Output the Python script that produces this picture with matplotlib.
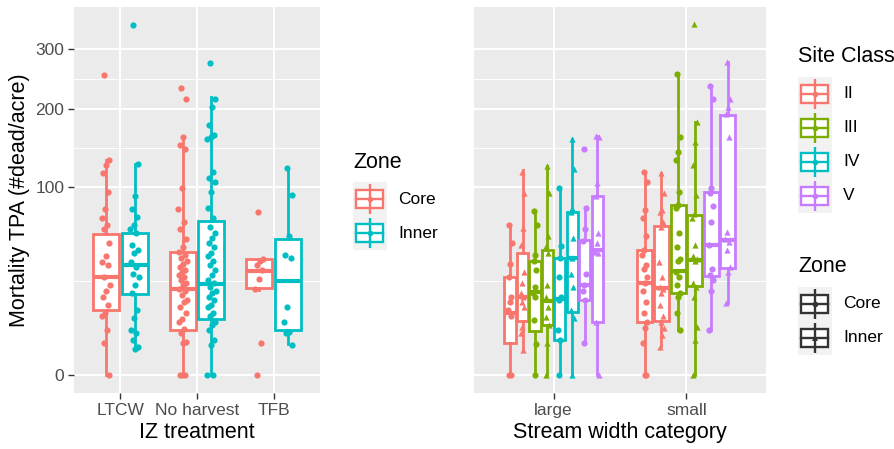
import numpy as np
import matplotlib.pyplot as plt
from matplotlib.patches import Rectangle

plt.rcParams['font.family'] = ['Liberation Sans', 'DejaVu Sans']

# ---- data (TPA = trees per acre) ----
treatments = ['LTCW', 'No harvest', 'TFB']
zones = ['Core', 'Inner']
zone_colors = ['#F8766D', '#00BFC4']

site_classes = ['II', 'III', 'IV', 'V']
site_colors = ['#F8766D', '#7CAE00', '#00BFC4', '#C77CFF']
widths = ['large', 'small']

# left panel points
ltcw_core = [255, 131, 125, 115, 95, 78, 70, 64, 60, 49, 40, 36, 34, 27, 23, 20, 17, 14, 11, 10, 5.7, 2.9, 0]
ltcw_inner = [347, 126, 91, 78, 71, 64, 60, 57, 48, 44, 42, 36, 33, 29, 27, 23, 19, 12, 9.2, 5.7, 5, 3.5, 2.2, 1.9]
nh_core = [233, 216, 160, 150, 144, 99, 78, 66, 60, 52, 46, 43, 41, 39, 37, 35, 33, 31, 30, 28, 27, 25.5,
           24, 23, 21, 20, 18, 16, 15, 13, 11, 9, 8, 6, 5, 3, 2.9, 0, 0, 0]
nh_inner = [276, 216, 203, 177, 163, 160, 158, 117, 110, 105, 95, 79, 70, 62, 57, 53, 49, 46, 42, 40, 37, 34,
            31, 28, 25.5, 24, 22, 20, 19, 17, 16, 14, 13, 11, 10, 8, 7, 5.7, 3.5, 2.5, 0, 0]
tfb_core = [75, 38, 37, 34, 31, 26, 21, 2.9, 0]
tfb_inner = [121, 92, 55, 41, 39, 13, 8, 5.3, 5, 2.5]

# left panel boxes: whislo, q1, median, q3, whishi
box_ltcw_core = [0, 12, 27, 56, 131]
box_ltcw_inner = [1.9, 18.5, 34, 57, 126]
box_nh_core = [0, 5.75, 20.8, 42.7, 160]
box_nh_inner = [0, 8.8, 23.3, 67, 218]
box_tfb_core = [20.5, 21.3, 30.5, 38, 38]
box_tfb_inner = [2.7, 5.6, 25, 52.3, 121]

# right panel points, large streams
lg_ii_core = [64, 49, 35, 27, 17, 15, 12, 10, 0, 0]
lg_ii_inner = [117, 94, 61, 48, 30, 24, 19, 17, 15, 13, 6.6, 5, 1.8]
lg_iii_core = [76, 64, 41, 37, 31, 22, 19, 17, 8.6, 2.8, 0]
lg_iii_inner = [123, 94, 55, 47, 42, 23, 17, 13, 9.6, 7, 2.9, 0]
lg_iv_core = [99, 47, 39, 27, 17, 16, 5.7, 3.5, 0]
lg_iv_inner = [158, 120, 79, 75, 53, 39, 29, 22, 12, 9.2, 0]
lg_v_core = [144, 79, 60, 51, 29, 23, 20, 16, 2.9]
lg_v_inner = [162, 160, 104, 91, 57, 49, 43, 42, 8, 0]

# right panel points, small streams (no site class IV)
sm_ii_core = [116, 105, 77, 70, 55, 44, 41, 34, 32, 27, 24, 20, 15, 11, 7.8, 6.2, 2.9, 0, 0]
sm_ii_inner = [115, 94, 77, 75, 66, 62, 36, 27, 22, 21, 19, 14, 10, 8, 6.2, 4.5, 2.2]
sm_iii_core = [256, 160, 141, 131, 95, 82, 79, 57, 46, 38, 37, 30, 27, 23, 19, 17, 11, 5.7]
sm_iii_inner = [349, 181, 154, 125, 92, 73, 70, 48, 40, 38, 37, 24, 22, 17, 6.6, 3.5, 0]
sm_v_core = [236, 216, 99, 94, 81, 66.5, 48, 32, 28, 25.5, 20, 5.7]
sm_v_inner = [277, 216, 203, 192, 160, 58, 52, 50, 44, 33, 30, 14.6]

box_lg_ii_core = [0, 2.85, 11, 27.1, 64]
box_lg_ii_inner = [1.8, 8.3, 17.3, 42.3, 119]
box_lg_iii_core = [0, 5.5, 19.5, 37, 76]
box_lg_iii_inner = [0, 7.1, 15.5, 44, 123]
box_lg_iv_core = [0, 3.5, 16.5, 38.5, 99]
box_lg_iv_inner = [0, 11.3, 38.5, 75.5, 158]
box_lg_v_core = [2.9, 16, 23, 51.6, 79]
box_lg_v_inner = [0, 7.9, 44, 91, 162]

box_sm_ii_core = [0, 7.8, 23.9, 44.4, 116]
box_sm_ii_inner = [2.3, 8.1, 21.3, 62.5, 115]
box_sm_iii_core = [5.75, 19.2, 30.3, 82, 256]
box_sm_iii_inner = [0, 22.2, 37.6, 72.7, 181]
box_sm_v_core = [5.75, 27.8, 48, 94.4, 236]
box_sm_v_inner = [14.6, 32.2, 51.6, 191, 277]


def fwd(v):
    v = np.asarray(v, dtype=float)
    return np.sign(v) * np.sqrt(np.abs(v))


def inv(t):
    t = np.asarray(t, dtype=float)
    return np.sign(t) * t ** 2


def jitter(n, w):
    k = np.arange(n)
    return ((k * 0.618034 + 0.31) % 1.0 - 0.5) * 2 * w


def style_panel(ax):
    ax.set_facecolor('#EBEBEB')
    ax.set_yscale('function', functions=(fwd, inv))
    ax.set_ylim(-0.92, 383)
    ax.set_yticks([0, 100, 200, 300])
    ax.set_yticks([25, 145.7, 247.5], minor=True)
    ax.grid(True, which='major', color='white', lw=1.4)
    ax.grid(True, which='minor', color='white', lw=0.7)
    ax.set_axisbelow(True)
    for s in ax.spines.values():
        s.set_visible(False)
    ax.tick_params(which='minor', length=0)
    ax.tick_params(which='major', length=4, width=1, color='#333333',
                   labelcolor='#4D4D4D', labelsize=12.5, pad=3)


def draw_group(ax, pos, stats, pts, color, width, jw, marker):
    st = dict(whislo=stats[0], q1=stats[1], med=stats[2], q3=stats[3], whishi=stats[4], fliers=[])
    ax.bxp([st], positions=[pos], widths=width, showcaps=False, showfliers=False,
           patch_artist=True, manage_ticks=False,
           boxprops=dict(facecolor='white', edgecolor=color, linewidth=2.0),
           whiskerprops=dict(color=color, linewidth=2.0),
           medianprops=dict(color=color, linewidth=3.0, solid_capstyle='butt'))
    ax.scatter(pos + jitter(len(pts), jw), pts, s=20, color=color, marker=marker,
               linewidths=0, zorder=4)


fig = plt.figure(figsize=(8.95, 4.49), dpi=100)
W, H = 895, 449

ax1 = fig.add_axes([74 / W, 1 - 393 / H, 246 / W, 386 / H])
ax2 = fig.add_axes([474 / W, 1 - 393 / H, 292 / W, 386 / H])
style_panel(ax1)
style_panel(ax2)

# left panel
left_pts = [[ltcw_core, ltcw_inner], [nh_core, nh_inner], [tfb_core, tfb_inner]]
left_box = [[box_ltcw_core, box_ltcw_inner], [box_nh_core, box_nh_inner], [box_tfb_core, box_tfb_inner]]
slot = 0.75 / 2
for i in range(3):
    for j in range(2):
        pos = i + 1 + (j - 0.5) * slot
        draw_group(ax1, pos, left_box[i][j], left_pts[i][j], zone_colors[j],
                   slot * 0.9, slot * 0.15, 'o')
ax1.set_xlim(0.4, 3.6)
ax1.set_xticks([1, 2, 3])
ax1.set_xticklabels(treatments)
ax1.set_xlabel('IZ treatment', fontsize=15.5, labelpad=3)
ax1.set_ylabel('Mortality TPA (#dead/acre)', fontsize=15.5, labelpad=4)

# right panel
right_groups = {
    'large': [('II', 'Core', lg_ii_core, box_lg_ii_core), ('II', 'Inner', lg_ii_inner, box_lg_ii_inner),
              ('III', 'Core', lg_iii_core, box_lg_iii_core), ('III', 'Inner', lg_iii_inner, box_lg_iii_inner),
              ('IV', 'Core', lg_iv_core, box_lg_iv_core), ('IV', 'Inner', lg_iv_inner, box_lg_iv_inner),
              ('V', 'Core', lg_v_core, box_lg_v_core), ('V', 'Inner', lg_v_inner, box_lg_v_inner)],
    'small': [('II', 'Core', sm_ii_core, box_sm_ii_core), ('II', 'Inner', sm_ii_inner, box_sm_ii_inner),
              ('III', 'Core', sm_iii_core, box_sm_iii_core), ('III', 'Inner', sm_iii_inner, box_sm_iii_inner),
              ('V', 'Core', sm_v_core, box_sm_v_core), ('V', 'Inner', sm_v_inner, box_sm_v_inner)],
}
for i, w in enumerate(widths):
    grp = right_groups[w]
    n = len(grp)
    slot = 0.75 / n
    for k, (sc, zn, pts, bx) in enumerate(grp):
        pos = i + 1 + (k - (n - 1) / 2) * slot
        col = site_colors[site_classes.index(sc)]
        mk = 'o' if zn == 'Core' else '^'
        draw_group(ax2, pos, bx, pts, col, slot * 0.9, slot * 0.15, mk)
ax2.set_xlim(0.4, 2.6)
ax2.set_xticks([1, 2])
ax2.set_xticklabels(widths)
ax2.tick_params(axis='y', which='both', length=0, labelleft=False)
ax2.set_xlabel('Stream width category', fontsize=15.5, labelpad=3)

# legends drawn in pixel space
lay = fig.add_axes([0, 0, 1, 1], zorder=5)
lay.set_xlim(0, W)
lay.set_ylim(H, 0)
lay.axis('off')


def draw_key(cx, cy, color, marker):
    lay.plot([cx, cx], [cy - 15, cy + 15], color=color, lw=1.7, solid_capstyle='butt')
    lay.add_patch(Rectangle((cx - 13.5, cy - 9), 27, 18, facecolor='white', edgecolor=color, lw=1.7))
    lay.plot([cx - 13.5, cx + 13.5], [cy, cy], color=color, lw=1.7)
    lay.plot([cx], [cy], marker=marker, color=color, ms=4, mew=0)


def draw_legend(x0, title_y, title, labels, colors, markers):
    lay.text(x0, title_y, title, fontsize=15.5, va='center', ha='left', color='black')
    top = title_y + 20
    lay.add_patch(Rectangle((x0, top), 34, 34 * len(labels), facecolor='#F2F2F2', edgecolor='none'))
    for k, lab in enumerate(labels):
        cy = top + 17 + 34 * k
        draw_key(x0 + 17, cy, colors[k], markers[k])
        lay.text(x0 + 45, cy, lab, fontsize=12.5, va='center', ha='left', color='black')


draw_legend(353, 162, 'Zone', zones, zone_colors, ['o', 'o'])
draw_legend(798, 57, 'Site Class', site_classes, site_colors, ['o'] * 4)
draw_legend(798, 267, 'Zone', zones, ['#333333', '#333333'], ['o', '^'])

fig.savefig('out.png', dpi=100)
